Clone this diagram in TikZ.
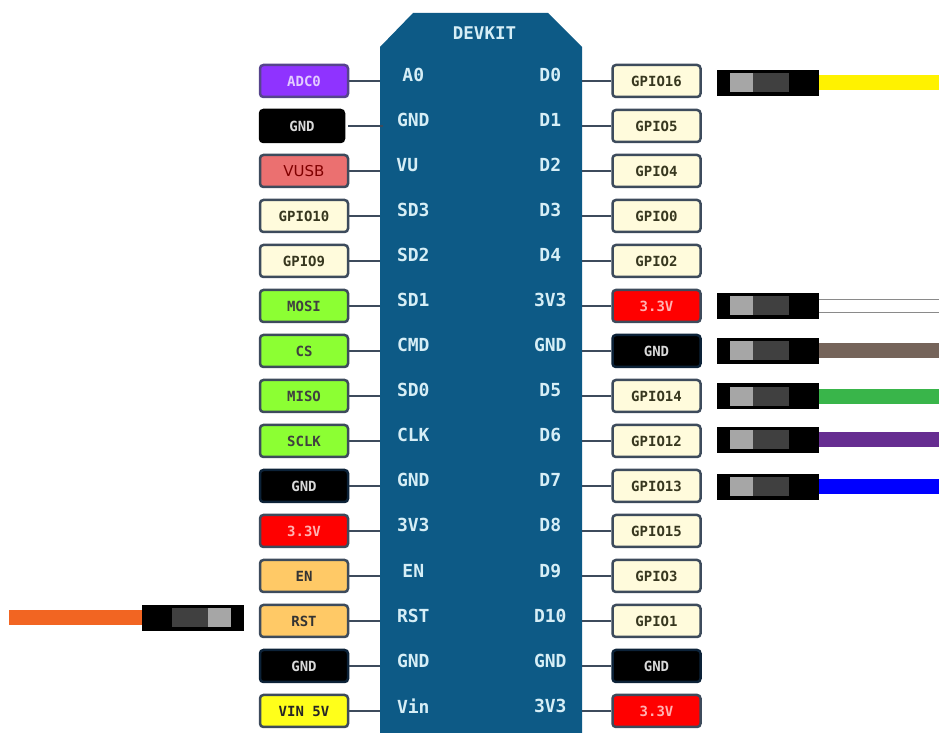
\documentclass[tikz,border=0pt]{standalone}
\usepackage{fontspec}
\setmainfont{DejaVu Sans}
\setmonofont{DejaVu Sans Mono}
\usepackage{xcolor}
\usetikzlibrary{positioning}
\definecolor{PinBoard}{HTML}{0D5A86}
\definecolor{PinBoardText}{HTML}{D6EEF6}
\definecolor{PinEdge}{HTML}{3D4B5C}
\definecolor{PinNavy}{HTML}{0C2238}
\definecolor{PinCream}{HTML}{FFFBDC}
\definecolor{PinCreamText}{HTML}{37371F}
\definecolor{PinViolet}{HTML}{8F33FF}
\definecolor{PinRose}{HTML}{EB7070}
\definecolor{PinGreen}{HTML}{8CFF33}
\definecolor{PinOrange}{HTML}{FFC966}
\definecolor{PinYellow}{HTML}{FFFF1A}
\definecolor{WireBrown}{HTML}{75645A}
\definecolor{WireGreen}{HTML}{39B54A}
\definecolor{WirePurple}{HTML}{662D91}
\definecolor{WireOrange}{HTML}{F26522}
\definecolor{WireYellow}{HTML}{FFF200}
\definecolor{WireGrey}{HTML}{8A8A8A}

\begin{document}
\begin{tikzpicture}[
  x=1pt,y=1pt,
  node distance=10.5pt,
  pinbox/.style={draw=PinEdge,line width=2.5pt,rounded corners=1.2mm,minimum width=88pt,minimum height=32pt,inner sep=0pt,font=\fontsize{14}{14}\ttfamily\bfseries},
  gpiobox/.style={pinbox,fill=PinCream,text=PinCreamText},
  spibox/.style={pinbox,fill=PinGreen,text=black!75},
  ctrlbox/.style={pinbox,fill=PinOrange,text=black!80},
  gndbox/.style={pinbox,draw=PinNavy,fill=black,text=white!85!black},
  powerbox/.style={pinbox,fill=red,text=red!30},
  boardname/.style={text=PinBoardText,inner sep=0pt,font=\fontsize{18}{18}\ttfamily\bfseries},
  wire/.style={draw=PinEdge,line width=2.5pt},
  plug/.style={fill=black,minimum width=102pt,minimum height=26pt,inner sep=0pt,outer sep=0pt},
  plugpale/.style={fill=black!35,minimum width=23pt,minimum height=19pt,inner sep=0pt,outer sep=0pt},
  plugdark/.style={fill=black!75,minimum width=36pt,minimum height=19pt,inner sep=0pt,outer sep=0pt},
  cable/.style={line width=15pt}
]
\useasboundingbox (0,0) rectangle (939,733);
\node[minimum width=202pt,minimum height=720pt,inner sep=0pt,outer sep=0pt] (board) at (481,360) {};
\fill[PinBoard] (board.south west) -- ([yshift=-34pt]board.north west) -- ([xshift=33pt]board.north west)
  -- ([xshift=-34pt]board.north east) -- ([yshift=-34pt]board.north east) -- (board.south east) -- cycle;
\node[boardname,font=\fontsize{17.5}{17.5}\ttfamily\bfseries] (devkit) at (484.5,700) {DEVKIT};

\node[pinbox,fill=PinViolet,text=PinViolet!25,draw=PinEdge!70!PinViolet] (adc) at (304,652) {ADC0};
\node[gndbox,draw=black,minimum width=84pt,below=10.5pt of adc,xshift=-2pt] (gnda) {GND};
\node[pinbox,fill=PinRose,text=red!50!black,font=\fontsize{15}{15}\selectfont,below=10.5pt of adc,yshift=-45pt] (vusb) {VUSB};
\node[gpiobox,below=of vusb] (gpio10) {GPIO10};
\node[gpiobox,below=of gpio10] (gpio9) {GPIO9};
\node[spibox,below=of gpio9] (mosi) {MOSI};
\node[spibox,below=of mosi] (cs) {CS};
\node[spibox,below=of cs] (miso) {MISO};
\node[spibox,below=of miso] (sclk) {SCLK};
\node[gndbox,below=of sclk] (gndb) {GND};
\node[powerbox,below=of gndb] (vleft) {3.3V};
\node[ctrlbox,below=of vleft] (en) {EN};
\node[ctrlbox,below=of en] (rst) {RST};
\node[gndbox,below=of rst] (gndc) {GND};
\node[pinbox,fill=PinYellow,text=black!85,below=of gndc] (vin) {VIN 5V};

\node[gpiobox] (gpio16) at (656.5,652) {GPIO16};
\node[gpiobox,below=of gpio16] (gpio5) {GPIO5};
\node[gpiobox,below=of gpio5] (gpio4) {GPIO4};
\node[gpiobox,below=of gpio4] (gpio0) {GPIO0};
\node[gpiobox,below=of gpio0] (gpio2) {GPIO2};
\node[powerbox,below=of gpio2] (vright) {3.3V};
\node[gndbox,below=of vright] (gndd) {GND};
\node[gpiobox,below=of gndd] (gpio14) {GPIO14};
\node[gpiobox,below=of gpio14] (gpio12) {GPIO12};
\node[gpiobox,below=of gpio12] (gpio13) {GPIO13};
\node[gpiobox,below=of gpio13] (gpio15) {GPIO15};
\node[gpiobox,below=of gpio15] (gpio3) {GPIO3};
\node[gpiobox,below=of gpio3] (gpio1) {GPIO1};
\node[gndbox,below=of gpio1] (gnde) {GND};
\node[powerbox,below=of gnde] (vlast) {3.3V};

\node[boardname] (pina) at ([xshift=64pt,yshift=6pt]adc.east) {A0};
\node[boardname] (pinb) at ([xshift=68pt,yshift=6pt]gnda.east) {GND};
\node[boardname] (pinc) at ([xshift=58pt,yshift=6pt]vusb.east) {VU};
\node[boardname] (pind) at ([xshift=64pt,yshift=6pt]gpio10.east) {SD3};
\node[boardname] (pine) at ([xshift=64pt,yshift=6pt]gpio9.east) {SD2};
\node[boardname] (pinf) at ([xshift=64pt,yshift=6pt]mosi.east) {SD1};
\node[boardname] (ping) at ([xshift=64pt,yshift=6pt]cs.east) {CMD};
\node[boardname] (pinh) at ([xshift=64pt,yshift=6pt]miso.east) {SD0};
\node[boardname] (pini) at ([xshift=64pt,yshift=6pt]sclk.east) {CLK};
\node[boardname] (pinj) at ([xshift=64pt,yshift=6pt]gndb.east) {GND};
\node[boardname] (pink) at ([xshift=64pt,yshift=6pt]vleft.east) {3V3};
\node[boardname] (pinl) at ([xshift=64pt,yshift=5pt]en.east) {EN};
\node[boardname] (pinm) at ([xshift=64pt,yshift=5pt]rst.east) {RST};
\node[boardname] (pinn) at ([xshift=64pt,yshift=5pt]gndc.east) {GND};
\node[boardname] (pino) at ([xshift=64pt,yshift=5pt]vin.east) {Vin};

\node[boardname] (dza) at ([xshift=-61pt,yshift=6pt]gpio16.west) {D0};
\node[boardname] (dzb) at ([xshift=-61pt,yshift=6pt]gpio5.west) {D1};
\node[boardname] (dzc) at ([xshift=-61pt,yshift=6pt]gpio4.west) {D2};
\node[boardname] (dzd) at ([xshift=-61pt,yshift=6pt]gpio0.west) {D3};
\node[boardname] (dze) at ([xshift=-61pt,yshift=6pt]gpio2.west) {D4};
\node[boardname] (dzf) at ([xshift=-61pt,yshift=6pt]vright.west) {3V3};
\node[boardname] (dzg) at ([xshift=-61pt,yshift=6pt]gndd.west) {GND};
\node[boardname] (dzh) at ([xshift=-61pt,yshift=6pt]gpio14.west) {D5};
\node[boardname] (dzi) at ([xshift=-61pt,yshift=6pt]gpio12.west) {D6};
\node[boardname] (dzj) at ([xshift=-61pt,yshift=6pt]gpio13.west) {D7};
\node[boardname] (dzk) at ([xshift=-61pt,yshift=6pt]gpio15.west) {D8};
\node[boardname] (dzl) at ([xshift=-61pt,yshift=5pt]gpio3.west) {D9};
\node[boardname] (dzm) at ([xshift=-61pt,yshift=5pt]gpio1.west) {D10};
\node[boardname] (dzn) at ([xshift=-61pt,yshift=5pt]gnde.west) {GND};
\node[boardname] (dzo) at ([xshift=-61pt,yshift=5pt]vlast.west) {3V3};

\draw[wire] (adc.east) -- (adc.east -| board.west);
\draw[wire] ([xshift=3pt]gnda.east) -- ([xshift=3pt]gnda.east -| board.west);
\draw[wire] (vusb.east) -- (vusb.east -| board.west);
\draw[wire] (gpio10.east) -- (gpio10.east -| board.west);
\draw[wire] (gpio9.east) -- (gpio9.east -| board.west);
\draw[wire] (mosi.east) -- (mosi.east -| board.west);
\draw[wire] (cs.east) -- (cs.east -| board.west);
\draw[wire] (miso.east) -- (miso.east -| board.west);
\draw[wire] (sclk.east) -- (sclk.east -| board.west);
\draw[wire] (gndb.east) -- (gndb.east -| board.west);
\draw[wire] (vleft.east) -- (vleft.east -| board.west);
\draw[wire] (en.east) -- (en.east -| board.west);
\draw[wire] (rst.east) -- (rst.east -| board.west);
\draw[wire] (gndc.east) -- (gndc.east -| board.west);
\draw[wire] (vin.east) -- (vin.east -| board.west);
\draw[wire] (gpio16.west) -- (gpio16.west -| board.east);
\draw[wire] (gpio5.west) -- (gpio5.west -| board.east);
\draw[wire] (gpio4.west) -- (gpio4.west -| board.east);
\draw[wire] (gpio0.west) -- (gpio0.west -| board.east);
\draw[wire] (gpio2.west) -- (gpio2.west -| board.east);
\draw[wire] (vright.west) -- (vright.west -| board.east);
\draw[wire] (gndd.west) -- (gndd.west -| board.east);
\draw[wire] (gpio14.west) -- (gpio14.west -| board.east);
\draw[wire] (gpio12.west) -- (gpio12.west -| board.east);
\draw[wire] (gpio13.west) -- (gpio13.west -| board.east);
\draw[wire] (gpio15.west) -- (gpio15.west -| board.east);
\draw[wire] (gpio3.west) -- (gpio3.west -| board.east);
\draw[wire] (gpio1.west) -- (gpio1.west -| board.east);
\draw[wire] (gnde.west) -- (gnde.west -| board.east);
\draw[wire] (vlast.west) -- (vlast.west -| board.east);

\node[plug,right=15.5pt of gpio16,yshift=-2pt] (plugyellow) {};
\node[plug,right=15.5pt of vright] (plugwhite) {};
\node[plug,right=15.5pt of gndd] (plugbrown) {};
\node[plug,right=15.5pt of gpio14,yshift=-0.5pt] (pluggreen) {};
\node[plug,right=15.5pt of gpio12,yshift=1pt] (plugpurple) {};
\node[plug,right=15.5pt of gpio13,yshift=-1pt] (plugblue) {};
\node[plug,left=15pt of rst,yshift=3pt] (plugorange) {};

\node[plugpale,right=13pt of plugyellow.west] (paleyellow) {};
\node[plugdark,right=0pt of paleyellow] (darkyellow) {};
\node[plugpale,right=13pt of plugwhite.west] (palewhite) {};
\node[plugdark,right=0pt of palewhite] (darkwhite) {};
\node[plugpale,right=13pt of plugbrown.west] (palebrown) {};
\node[plugdark,right=0pt of palebrown] (darkbrown) {};
\node[plugpale,right=13pt of pluggreen.west] (palegreen) {};
\node[plugdark,right=0pt of palegreen] (darkgreen) {};
\node[plugpale,right=13pt of plugpurple.west] (palepurple) {};
\node[plugdark,right=0pt of palepurple] (darkpurple) {};
\node[plugpale,right=13pt of plugblue.west] (paleblue) {};
\node[plugdark,right=0pt of paleblue] (darkblue) {};
\node[plugpale,left=13pt of plugorange.east] (paleorange) {};
\node[plugdark,left=0pt of paleorange] (darkorange) {};

\coordinate (edgeyellow) at (939,0 |- plugyellow.east);
\coordinate (edgeupper) at ([yshift=6.5pt]939,0 |- plugwhite.east);
\coordinate (edgelower) at ([yshift=-6.5pt]939,0 |- plugwhite.east);
\coordinate (edgebrown) at (939,0 |- plugbrown.east);
\coordinate (edgegreen) at (939,0 |- pluggreen.east);
\coordinate (edgepurple) at (939,0 |- plugpurple.east);
\coordinate (edgeblue) at (939,0 |- plugblue.east);
\coordinate (edgeorange) at (9,0 |- plugorange.west);

\draw[cable,draw=WireYellow] (plugyellow.east) -- (edgeyellow);
\draw[draw=WireGrey,line width=1.5pt] ([yshift=6.5pt]plugwhite.east) -- (edgeupper);
\draw[draw=WireGrey,line width=1.5pt] ([yshift=-6.5pt]plugwhite.east) -- (edgelower);
\draw[cable,draw=WireBrown] (plugbrown.east) -- (edgebrown);
\draw[cable,draw=WireGreen] (pluggreen.east) -- (edgegreen);
\draw[cable,draw=WirePurple] (plugpurple.east) -- (edgepurple);
\draw[cable,draw=blue] (plugblue.east) -- (edgeblue);
\draw[cable,draw=WireOrange] (plugorange.west) -- (edgeorange);
\end{tikzpicture}
\end{document}
